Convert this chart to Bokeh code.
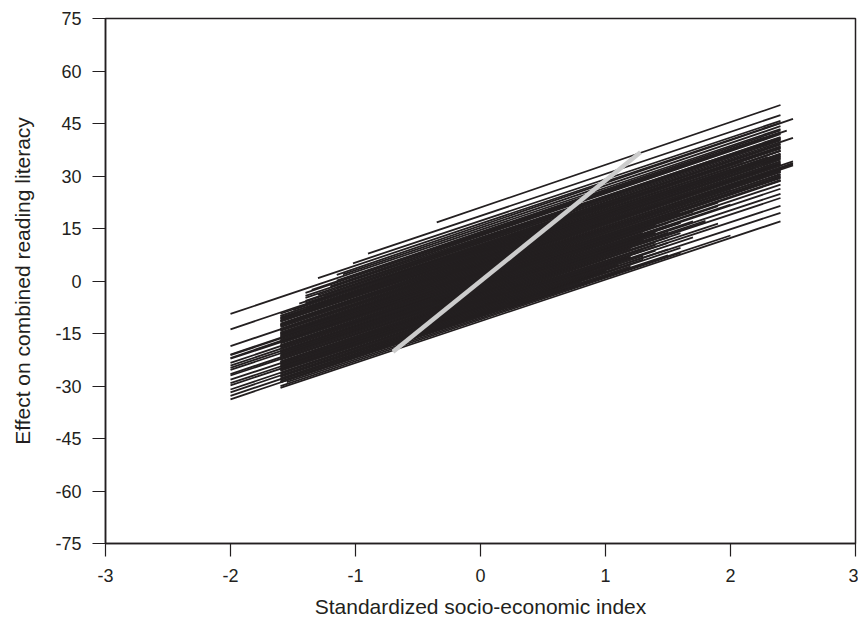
from bokeh.plotting import figure
from bokeh.models import ColumnDataSource, FixedTicker, Range1d
from bokeh.embed import file_html
from bokeh.resources import INLINE

# School-level regression lines: SES range, intercept (at SES=0) and slope
x_lo = [-0.35, -0.90, -1.02, -1.15, -2.00, -1.15, -1.40, -1.20, -1.40, -1.15,
        -1.40, -1.25, -2.00, -1.40, -1.60, -1.40, -1.60, -1.45, -1.60, -1.60,
        -1.55, -1.60, -1.60, -1.60, -2.00, -1.60, -1.60, -1.60, -1.60, -1.60,
        -2.00, -2.00, -2.00, -1.60, -2.00, -1.60, -2.00, -1.60, -2.00, -1.60,
        -2.00, -1.60, -2.00, -1.60, -2.00, -1.60, -2.00, -1.60, -1.60, -2.00,
        -1.60, -2.00, -1.60, -2.00, -1.60, -2.00, -1.60, -2.00, -1.60, -1.60,
        -2.00, -1.60, -2.00, -1.60, -1.55, -1.60, -1.60,
        -1.30, -1.10, -1.35, -1.20, -1.40, -1.30, -1.45, -1.40, -1.60, -1.50,
        -1.60, -1.60, -1.60, -1.60, -1.60, -1.60, -1.60, -1.60, -1.60, -1.60,
        -1.60, -1.60, -1.60, -1.60, -1.60, -1.60, -1.60, -1.60, -1.60, -1.60,
        -1.60, -1.60, -1.60, -1.60, -1.60, -1.60, -1.60, -1.60, -1.60, -1.60,
        -1.60, -1.60, -1.60, -1.60, -1.60, -1.60, -1.60, -1.60, -1.60, -1.60,
        -1.60, -1.60, -1.60, -1.60, -1.60, -1.60, -1.60, -1.60, -1.60]
x_hi = [2.40, 2.40, 2.40, 2.50, 2.40, 2.40, 2.40, 2.40, 2.40, 2.40,
        2.40, 2.50, 2.40, 2.40, 2.40, 2.10, 2.40, 2.40, 2.00, 2.40,
        2.40, 2.40, 2.20, 2.40, 2.40, 2.40, 2.40, 2.50, 2.50, 2.50,
        2.50, 2.40, 2.40, 2.40, 2.40, 2.40, 2.40, 2.40, 2.40, 1.90,
        2.40, 1.50, 2.00, 2.40, 1.60, 1.40, 2.40, 1.30, 1.80, 2.40,
        1.20, 1.50, 1.00, 1.40, 2.40, 1.10, 1.20, 0.90, 1.30, 2.40,
        1.00, 1.20, 0.80, 1.50, 2.00, 1.60, 2.40,
        2.40, 2.40, 2.40, 2.45, 2.40, 2.40, 2.40, 2.40, 2.40, 2.40,
        2.40, 2.40, 2.40, 2.30, 2.40, 2.40, 2.40, 2.40, 2.00, 2.40,
        2.40, 2.40, 2.40, 2.40, 2.40, 2.40, 2.40, 2.40, 2.00, 2.40,
        1.80, 2.40, 1.60, 2.40, 1.70, 1.40, 1.90, 1.30, 1.50, 1.60,
        1.40, 1.70, 1.30, 1.50, 1.80, 1.20, 1.60, 1.40, 1.90, 1.30,
        1.50, 1.20, 1.70, 1.40, 1.10, 1.50, 1.30, 1.60, 1.20, 1.40,
        1.70, 1.50]
intercept = [21.0, 18.6, 17.2, 15.8, 14.6, 14.0, 13.4, 12.9, 12.4, 11.9,
             11.4, 10.9, 10.2, 9.8, 9.4, 9.0, 8.6, 8.2, 7.8, 7.4,
             7.0, 6.6, 6.2, 5.8, 5.4, 5.0, 4.6, 4.2, 3.8, 3.4,
             3.0, 2.6, 2.2, 1.8, 1.4, 1.0, 0.6, 0.2, -0.2, -0.6,
             -1.0, -1.4, -1.8, -2.2, -2.6, -3.0, -3.4, -3.8, -4.2, -4.6,
             -5.0, -5.4, -5.8, -6.2, -6.6, -7.0, -7.4, -7.8, -8.2, -8.6,
             -9.0, -9.4, -9.8, -10.2, -10.6, -11.0, -11.5,
             16.4, 15.2, 13.7, 13.1, 12.1, 11.6, 11.1, 10.5, 10.0, 9.6,
             9.2, 8.8, 8.4, 8.0, 7.6, 7.2, 6.8, 6.4, 6.0, 5.6,
             5.2, 4.8, 4.4, 4.0, 3.6, 3.2, 2.8, 2.4, 2.0, 1.6,
             1.2, 0.8, 0.4, 0.0, -0.4, -0.8, -1.2, -1.6, -2.0, -2.4,
             -2.8, -3.2, -3.6, -4.0, -4.4, -4.8, -5.2, -5.6, -6.0, -6.4,
             -6.8, -7.2, -7.6, -8.0, -8.4, -8.8, -9.2, -9.6, -10.0, -10.4,
             -10.8, -11.2]
slope = [12.2, 12.0, 11.9, 12.2, 12.0, 12.1, 12.0, 12.1, 11.9, 12.0,
         12.2, 12.0, 12.0, 11.9, 12.1, 12.0, 11.9, 12.1, 12.0, 11.8,
         12.1, 12.0, 11.9, 12.2, 12.0, 11.9, 12.1, 12.0, 11.8, 12.1,
         12.0, 11.9, 12.1, 12.0, 11.8, 12.1, 12.0, 11.9, 12.0, 12.1,
         11.9, 12.0, 11.8, 11.9, 12.0, 12.1, 11.8, 12.0, 11.9, 11.8,
         12.0, 11.9, 12.1, 11.8, 11.7, 12.0, 11.9, 12.0, 11.8, 11.7,
         11.9, 11.8, 12.0, 11.7, 11.8, 11.9, 11.9,
         12.0, 12.1, 12.0, 12.2, 12.1, 12.0, 12.1, 12.0, 12.1, 11.9,
         12.0, 12.1, 12.0, 11.9, 12.0, 12.1, 12.0, 11.9, 12.0, 12.1,
         12.0, 11.9, 12.0, 12.1, 12.0, 11.9, 12.0, 12.0, 11.9, 12.0,
         11.9, 12.0, 11.9, 12.0, 11.9, 12.0, 11.9, 11.8, 11.9, 11.9,
         11.8, 11.9, 11.8, 11.9, 11.8, 11.9, 11.8, 11.9, 11.8, 11.9,
         11.8, 11.9, 11.8, 11.9, 11.8, 11.9, 11.8, 11.9, 11.8, 11.9,
         11.8, 11.9]

# Overall (between-school) regression line
overall_x = [-0.70, 1.28]
overall_y = [-20.2, 36.8]

x_ticks = [-3, -2, -1, 0, 1, 2, 3]
x_labels = ["-3", "-2", "-1", "0", "1", "2", "3"]
y_ticks = [-75, -60, -45, -30, -15, 0, 15, 30, 45, 60, 75]
y_labels = ["-75", "-60", "-45", "-30", "-15", "0", "15", "30", "45", "60", "75"]

y_start = [b + s * x for b, s, x in zip(intercept, slope, x_lo)]
y_end = [b + s * x for b, s, x in zip(intercept, slope, x_hi)]
src = ColumnDataSource(dict(x0=x_lo, x1=x_hi, y0=y_start, y1=y_end))

INK = "#231f20"
FONT = "Liberation Sans"

p = figure(width=858, height=620, output_backend="svg", toolbar_location=None,
           x_range=Range1d(-3, 3), y_range=Range1d(-75, 75),
           min_border_left=105, min_border_right=3, min_border_top=18,
           min_border_bottom=76)
p.grid.visible = False
p.outline_line_color = INK
p.outline_line_width = 1.5
p.background_fill_color = "white"
p.border_fill_color = "white"

p.segment(x0="x0", y0="y0", x1="x1", y1="y1", source=src,
          line_color=INK, line_width=1.8)
p.line(overall_x, overall_y, line_color="#cccccc", line_width=4.5)

for ax in (p.xaxis[0], p.yaxis[0]):
    ax.axis_line_color = INK
    ax.axis_line_width = 1.5
    ax.major_tick_line_color = INK
    ax.major_tick_line_width = 1.2
    ax.major_tick_out = 13
    ax.major_tick_in = 0
    ax.minor_tick_line_color = None
    ax.major_label_text_font = FONT
    ax.major_label_text_font_size = "18px"
    ax.major_label_text_color = INK
    ax.axis_label_text_font = FONT
    ax.axis_label_text_font_size = "21px"
    ax.axis_label_text_font_style = "normal"
    ax.axis_label_text_color = INK

p.xaxis.ticker = FixedTicker(ticks=x_ticks)
p.yaxis.ticker = FixedTicker(ticks=y_ticks)
p.xaxis.major_label_overrides = dict(zip(x_ticks, x_labels))
p.yaxis.major_label_overrides = dict(zip(y_ticks, y_labels))
p.xaxis.axis_label = "Standardized socio-economic index"
p.yaxis.axis_label = "Effect on combined reading literacy"
p.xaxis.major_label_standoff = 12
p.yaxis.major_label_standoff = 11
p.xaxis.axis_label_standoff = 10
p.yaxis.axis_label_standoff = 18

open("out.html", "w").write(file_html(p, INLINE))
